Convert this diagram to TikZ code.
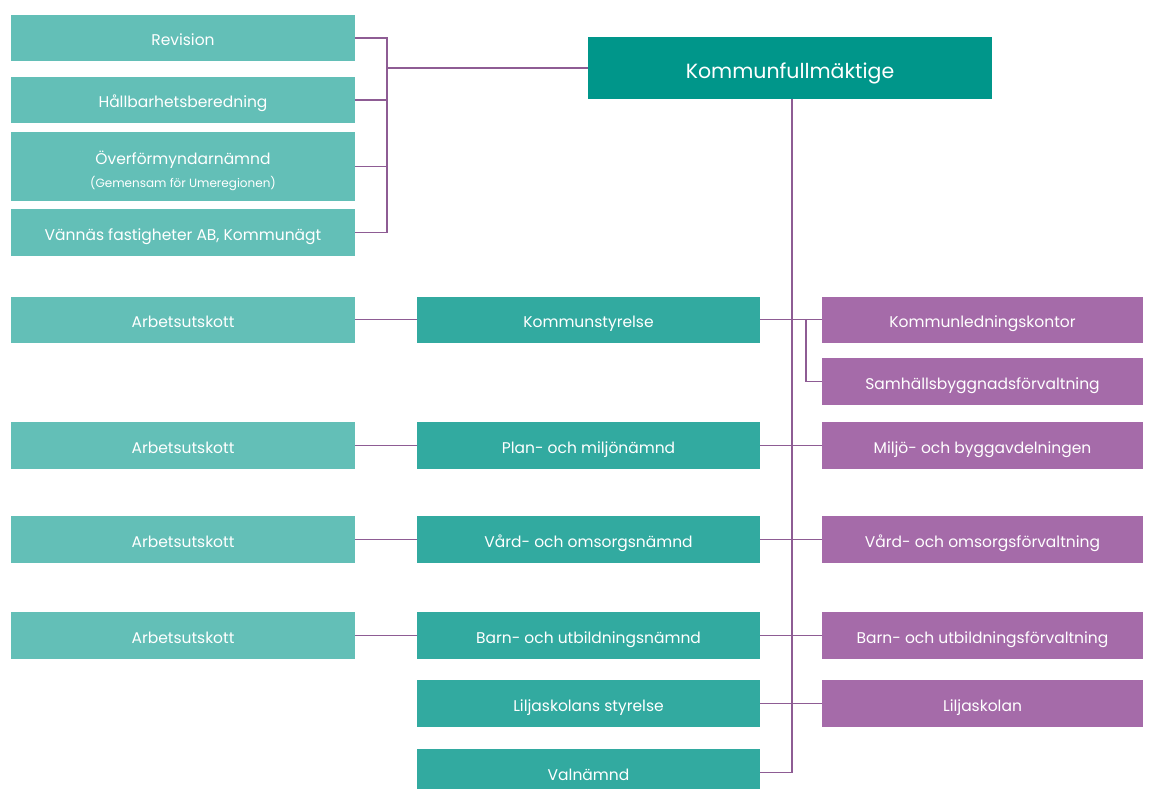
\documentclass[tikz,border=0pt]{standalone}
\usepackage{fontspec}
\setmainfont{Poppins}
\definecolor{ljus}{HTML}{63BFB7}
\definecolor{mellan}{HTML}{32AAA0}
\definecolor{mork}{HTML}{00968A}
\definecolor{lila}{HTML}{A56BA9}
\definecolor{linje}{HTML}{8E5C94}
\tikzset{
  ruta/.style={inner sep=0pt, outer sep=0pt, minimum height=46, text=white, font=\fontsize{15.5}{18}\selectfont, align=center, text height=15.5pt, text depth=0pt},
  nivaa/.style={ruta, fill=ljus, minimum width=344},
  namnd/.style={ruta, fill=mellan, minimum width=343},
  forv/.style={ruta, fill=lila, minimum width=321},
  band/.style={draw=linje, line width=1.2pt}
}
\begin{document}
\begin{tikzpicture}[x=1pt, y=-1pt]
% Page size
\useasboundingbox (0,0) rectangle (1153,789);
\clip (0,0) rectangle (1153,789);

% Top level
\node[ruta, fill=mork, minimum width=404, minimum height=62, font=\fontsize{20.5}{24}\selectfont, text height=20.5pt] (kf) at (790,68) {Kommunfullmäktige};

% Boxes on the left, tied to the council
\node[nivaa] (rev) at (183,38) {Revision};
\node[nivaa] (hall) at (183,100) {Hållbarhetsberedning};
\node[nivaa, minimum height=69, text height={}, text depth={}] (over) at (183,166.5) {\rule{0pt}{23pt}Överförmyndarnämnd\\[5pt]{\fontsize{12}{14}\selectfont (Gemensam för Umeregionen)}};
\node[nivaa, minimum height=47] (fast) at (183,232.5) {Vännäs fastigheter AB, Kommunägt};

% Committees and their offices
\node[nivaa] (au1) at (183,319.5) {Arbetsutskott};
\node[namnd] (ks) at (588.5,319.5) {Kommunstyrelse};
\node[forv] (klk) at (982.5,319.5) {Kommunledningskontor};
\node[forv, minimum height=47] (sbf) at (982.5,381.5) {Samhällsbyggnadsförvaltning};

\node[nivaa, minimum height=47] (au2) at (183,445.5) {Arbetsutskott};
\node[namnd, minimum height=47] (pmn) at (588.5,445.5) {Plan- och miljönämnd};
\node[forv, minimum height=47] (mba) at (982.5,445.5) {Miljö- och byggavdelningen};

\node[nivaa, minimum height=47] (au3) at (183,539.5) {Arbetsutskott};
\node[namnd, minimum height=47] (von) at (588.5,539.5) {Vård- och omsorgsnämnd};
\node[forv, minimum height=47] (vof) at (982.5,539.5) {Vård- och omsorgsförvaltning};

\node[nivaa, minimum height=47] (au4) at (183,635.5) {Arbetsutskott};
\node[namnd, minimum height=47] (bun) at (588.5,635.5) {Barn- och utbildningsnämnd};
\node[forv, minimum height=47] (buf) at (982.5,635.5) {Barn- och utbildningsförvaltning};

\node[namnd, minimum height=47] (lks) at (588.5,703.5) {Liljaskolans styrelse};
\node[forv, minimum height=47] (lk) at (982.5,703.5) {Liljaskolan};

\node[namnd, minimum height=47] (val) at (588.5,772.5) {Valnämnd};

% Bracket on the left
\coordinate (brk) at (387,68);
\draw[band] (kf.west) -- (brk);
\draw[band] (rev.east) -| (brk);
\draw[band] (fast.east) -| (brk);
\draw[band] (hall.east) -- (hall.east -| brk);
\draw[band] (over.east) -- (over.east -| brk);

% Trunk down from the council
\draw[band] ([xshift=2pt]kf.south) |- (val.east);

% Rows
\draw[band] (au1) -- (ks);
\draw[band] (ks) -- (klk);
\coordinate (gren) at (806,319.5);
\draw[band] (gren) |- (sbf.west);
\draw[band] (au2) -- (pmn);
\draw[band] (pmn) -- (mba);
\draw[band] (au3) -- (von);
\draw[band] (von) -- (vof);
\draw[band] (au4) -- (bun);
\draw[band] (bun) -- (buf);
\draw[band] (lks) -- (lk);
\end{tikzpicture}
\end{document}
